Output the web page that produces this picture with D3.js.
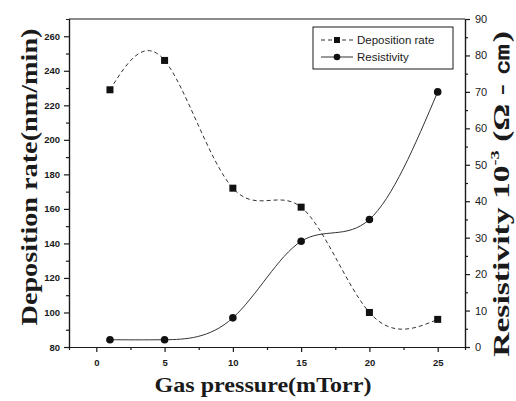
<!DOCTYPE html>
<html>
<head>
<meta charset="utf-8">
<script src="https://cdn.jsdelivr.net/npm/d3@7"></script>
<style>
  body { margin: 0; background: #fff; }
  svg { display: block; }
</style>
</head>
<body>
<svg id="chart" width="516" height="401"></svg>
<script>
// data
var pressure = [1, 5, 10, 15, 20, 25];
var depositionRate = [229, 246, 172, 161, 100, 96];
var resistivity = [2, 2, 8, 29, 35, 70];
var xTicks = [0, 5, 10, 15, 20, 25];
var leftTicks = [80, 100, 120, 140, 160, 180, 200, 220, 240, 260];
var rightTicks = [0, 10, 20, 30, 40, 50, 60, 70, 80, 90];

var svg = d3.select("#chart"),
    pL = 69, pR = 465, pT = 19, pB = 347;

var x = d3.scaleLinear().domain([-2, 27]).range([pL, pR]);
var yL = d3.scaleLinear().domain([80, 270]).range([pB, pT]);
var yR = d3.scaleLinear().domain([0, 90]).range([pB, pT]);

var ink = "#1a1a1a";

// minor ticks first, then major axes
function minor(axis, vals) {
    return axis.tickValues(vals).tickSize(3).tickFormat("");
}
svg.append("g").attr("transform", "translate(0," + pB + ")")
    .call(minor(d3.axisBottom(x), [2.5, 7.5, 12.5, 17.5, 22.5]));
svg.append("g").attr("transform", "translate(" + pL + ",0)")
    .call(minor(d3.axisLeft(yL), d3.range(90, 270, 20)));
svg.append("g").attr("transform", "translate(" + pR + ",0)")
    .call(minor(d3.axisRight(yR), d3.range(5, 90, 10)));

var gx = svg.append("g").attr("transform", "translate(0," + pB + ")")
    .call(d3.axisBottom(x).tickValues(xTicks).tickSize(5).tickPadding(7).tickSizeOuter(0));
var gl = svg.append("g").attr("transform", "translate(" + pL + ",0)")
    .call(d3.axisLeft(yL).tickValues(leftTicks).tickSize(5).tickPadding(4).tickSizeOuter(0));
var gr = svg.append("g").attr("transform", "translate(" + pR + ",0)")
    .call(d3.axisRight(yR).tickValues(rightTicks).tickSize(5).tickPadding(5).tickSizeOuter(0));

svg.selectAll("g .domain, g .tick line").attr("stroke", ink).attr("stroke-width", 1.2);
svg.selectAll("g .tick text").attr("fill", ink)
    .style("font-family", "Liberation Sans, Arial, sans-serif").style("font-size", "9.5px");
gx.selectAll(".tick text").style("font-weight", "bold");
gl.selectAll(".tick text").style("font-weight", "bold");
gr.selectAll(".tick text").style("font-size", "11px");

// top frame
svg.append("line").attr("x1", pL).attr("x2", pR).attr("y1", pT).attr("y2", pT)
    .attr("stroke", ink).attr("stroke-width", 1.2);

// curves
var depData = pressure.map(function(p, i) { return [p, depositionRate[i]]; });
var resData = pressure.map(function(p, i) { return [p, resistivity[i]]; });

var depLine = d3.line().x(function(d) { return x(d[0]); }).y(function(d) { return yL(d[1]); }).curve(d3.curveNatural);
var resLine = d3.line().x(function(d) { return x(d[0]); }).y(function(d) { return yR(d[1]); }).curve(d3.curveNatural);

svg.append("path").attr("d", depLine(depData)).attr("fill", "none")
    .attr("stroke", "#333").attr("stroke-width", 1).attr("stroke-dasharray", "4,3");
svg.append("path").attr("d", resLine(resData)).attr("fill", "none")
    .attr("stroke", "#333").attr("stroke-width", 1);

svg.selectAll(".sq").data(depData).enter().append("rect")
    .attr("class", "sq")
    .attr("x", function(d) { return x(d[0]) - 3.5; })
    .attr("y", function(d) { return yL(d[1]) - 3.5; })
    .attr("width", 7).attr("height", 7).attr("fill", "#111");
svg.selectAll(".dot").data(resData).enter().append("circle")
    .attr("class", "dot")
    .attr("cx", function(d) { return x(d[0]); })
    .attr("cy", function(d) { return yR(d[1]); })
    .attr("r", 3.8).attr("fill", "#111");

// legend
var lg = svg.append("g");
lg.append("rect").attr("x", 313).attr("y", 27).attr("width", 140).attr("height", 42)
    .attr("fill", "#fff").attr("stroke", ink).attr("stroke-width", 1);
lg.append("line").attr("x1", 321).attr("x2", 353).attr("y1", 40).attr("y2", 40)
    .attr("stroke", "#333").attr("stroke-dasharray", "4,3");
lg.append("rect").attr("x", 334).attr("y", 37).attr("width", 6).attr("height", 6).attr("fill", "#111");
lg.append("line").attr("x1", 321).attr("x2", 353).attr("y1", 57).attr("y2", 57).attr("stroke", "#333");
lg.append("circle").attr("cx", 337).attr("cy", 57).attr("r", 3.3).attr("fill", "#111");
lg.selectAll("text").data(["Deposition rate", "Resistivity"]).enter().append("text")
    .attr("x", 357).attr("y", function(d, i) { return 44 + i * 17; })
    .style("font-family", "Liberation Sans, Arial, sans-serif").style("font-size", "11.5px")
    .attr("fill", ink).text(function(d) { return d; });

// axis titles: stretched along their length like the scanned original
var serif = "Liberation Serif, Times New Roman, serif";
function title(cx, cy, rot, size, len) {
    var t = svg.append("text").attr("text-anchor", "middle")
        .style("font-family", serif).style("font-weight", "bold").style("font-size", size + "px")
        .attr("fill", ink);
    t.fit = function() {
        var w = t.node().getBBox().width;
        t.attr("transform", "translate(" + cx + "," + cy + ") rotate(" + rot + ") scale(" + (len / w) + ",1)");
        return t;
    };
    return t;
}

title(263, 392, 0, 21, 217).text("Gas pressure(mTorr)").fit();
title(37, 177, -90, 24, 297).text("Deposition rate(nm/min)").fit();

var rt = title(509, 194, -90, 24, 326);
rt.append("tspan").text("Resistivity 10");
rt.append("tspan").attr("dy", -10).style("font-size", "13px").text("-3");
rt.append("tspan").attr("dy", 10).text(" (Ω - ㎝)");
rt.fit();
</script>
</body>
</html>
